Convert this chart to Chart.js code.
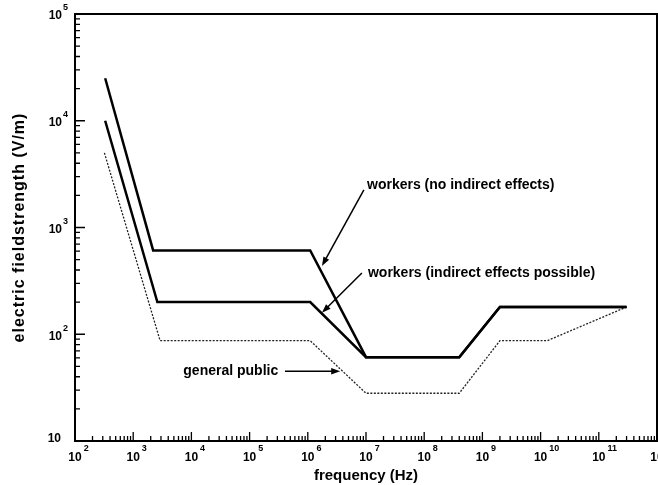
<!DOCTYPE html>
<html>
<head>
<meta charset="utf-8">
<script src="https://cdn.jsdelivr.net/npm/chart.js@4.4.1/dist/chart.umd.min.js"></script>
<style>
  html, body { margin: 0; padding: 0; background: #fff; }
  #wrap { width: 658px; height: 485px; }
</style>
</head>
<body>
<div id="wrap"><canvas id="fieldChart"></canvas></div>
<script>
// frequency in Hz, field strength in V/m
const noIndirectFreq  = [330, 2200, 1.1e6, 1e7, 4e8, 2e9, 3e11];
const noIndirectField = [25000, 610, 610, 61, 61, 180, 180];

const indirectFreq  = [330, 2600, 1.1e6, 1e7, 4e8, 2e9, 3e11];
const indirectField = [10000, 200, 200, 61, 61, 180, 180];

const publicFreq  = [320, 2900, 1.1e6, 1e7, 4e8, 2e9, 1.3e10, 3e11];
const publicField = [5000, 87, 87, 28, 28, 87, 87, 180];

const xDecades = [1e2, 1e3, 1e4, 1e5, 1e6, 1e7, 1e8, 1e9, 1e10, 1e11, 1e12];
const yDecades = [1e1, 1e2, 1e3, 1e4, 1e5];

const seriesNames = ['workers (no indirect effects)', 'workers (indirect effects possible)', 'general public'];
const xTitle = 'frequency (Hz)';
const yTitle = 'electric fieldstrength (V/m)';

const FONT = '"Liberation Sans", Arial, Helvetica, sans-serif';

const toPoints = (fs, vs) => fs.map((f, i) => ({ x: f, y: vs[i] }));

function arrow(ctx, x1, y1, x2, y2) {
    const ang = Math.atan2(y2 - y1, x2 - x1);
    ctx.beginPath();
    ctx.moveTo(x1, y1);
    ctx.lineTo(x2 - 6 * Math.cos(ang), y2 - 6 * Math.sin(ang));
    ctx.stroke();
    ctx.beginPath();
    ctx.moveTo(x2, y2);
    ctx.lineTo(x2 - 9 * Math.cos(ang) + 3.2 * Math.sin(ang), y2 - 9 * Math.sin(ang) - 3.2 * Math.cos(ang));
    ctx.lineTo(x2 - 9 * Math.cos(ang) - 3.2 * Math.sin(ang), y2 - 9 * Math.sin(ang) + 3.2 * Math.cos(ang));
    ctx.closePath();
    ctx.fill();
}

// frame, inward ticks, power-of-ten labels, titles and callouts
const paperAxes = {
    id: 'paperAxes',
    afterDraw(chart) {
        const { ctx, chartArea: a, scales: { x, y } } = chart;
        ctx.save();
        ctx.strokeStyle = '#000';
        ctx.fillStyle = '#000';

        ctx.lineWidth = 2;
        ctx.strokeRect(a.left, a.top, a.right - a.left, a.bottom - a.top);

        // minor + major ticks pointing inside
        ctx.lineWidth = 1.3;
        ctx.beginPath();
        xDecades.slice(0, -1).forEach(d => {
            for (let m = 1; m <= 9; m++) {
                const px = x.getPixelForValue(m * d);
                ctx.moveTo(px, a.bottom);
                ctx.lineTo(px, a.bottom - (m === 1 ? 9 : 5));
            }
        });
        yDecades.slice(0, -1).forEach(d => {
            for (let m = 1; m <= 9; m++) {
                const py = y.getPixelForValue(m * d);
                ctx.moveTo(a.left, py);
                ctx.lineTo(a.left + (m === 1 ? 10 : 5), py);
            }
        });
        ctx.stroke();

        // tick labels: "10" with raised exponent
        ctx.textBaseline = 'middle';
        x.ticks.forEach(t => {
            const px = x.getPixelForValue(t.value);
            const exp = Math.round(Math.log10(t.value));
            ctx.font = 'bold 12px ' + FONT;
            const w = ctx.measureText('10').width;
            ctx.textAlign = 'center';
            ctx.fillText('10', px, a.bottom + 17);
            ctx.font = 'bold 9px ' + FONT;
            ctx.textAlign = 'left';
            ctx.fillText(String(exp), px + w / 2 + 2, a.bottom + 8);
        });
        y.ticks.forEach(t => {
            const py = y.getPixelForValue(t.value);
            const exp = Math.round(Math.log10(t.value));
            ctx.font = 'bold 12px ' + FONT;
            const w = ctx.measureText('10').width;
            if (exp === 1) {
                ctx.textAlign = 'right';
                ctx.fillText('10', a.left - 14, py - 2);
                return;
            }
            ctx.font = 'bold 9px ' + FONT;
            const ws = ctx.measureText(String(exp)).width;
            const right = a.left - 7;
            ctx.textAlign = 'left';
            ctx.fillText(String(exp), right - ws, py - 6);
            ctx.font = 'bold 12px ' + FONT;
            ctx.fillText('10', right - ws - 1 - w, py + 2);
        });

        // axis titles
        ctx.font = 'bold 15px ' + FONT;
        ctx.textAlign = 'center';
        ctx.fillText(xTitle, (a.left + a.right) / 2, 476);
        ctx.save();
        ctx.font = 'bold 16px ' + FONT;
        ctx.translate(20, (a.top + a.bottom) / 2);
        ctx.rotate(-Math.PI / 2);
        ctx.letterSpacing = '1px';
        ctx.fillText(yTitle, 0, 0);
        ctx.restore();

        // callouts, anchored in data units
        ctx.font = 'bold 14px ' + FONT;
        ctx.textAlign = 'left';
        ctx.lineWidth = 1.5;
        ctx.fillText(seriesNames[0], x.getPixelForValue(1.04e7), y.getPixelForValue(2500));
        arrow(ctx, x.getPixelForValue(9.2e6), y.getPixelForValue(2250), x.getPixelForValue(1.75e6), y.getPixelForValue(436));
        ctx.fillText(seriesNames[1], x.getPixelForValue(1.08e7), y.getPixelForValue(375));
        arrow(ctx, x.getPixelForValue(8.5e6), y.getPixelForValue(375), x.getPixelForValue(1.75e6), y.getPixelForValue(159));
        ctx.textAlign = 'right';
        ctx.fillText(seriesNames[2], x.getPixelForValue(3.1e5), y.getPixelForValue(45));
        arrow(ctx, x.getPixelForValue(4.05e5), y.getPixelForValue(45), x.getPixelForValue(3.6e6), y.getPixelForValue(45));

        ctx.restore();
    }
};

new Chart(document.getElementById('fieldChart'), {
    type: 'line',
    data: {
        datasets: [
            { label: seriesNames[0], data: toPoints(noIndirectFreq, noIndirectField), borderColor: '#000', borderWidth: 2.5 },
            { label: seriesNames[1], data: toPoints(indirectFreq, indirectField), borderColor: '#000', borderWidth: 2.5 },
            { label: seriesNames[2], data: toPoints(publicFreq, publicField), borderColor: '#222', borderWidth: 1.3, borderDash: [2, 1.5] }
        ]
    },
    options: {
        responsive: true,
        maintainAspectRatio: false,
        animation: false,
        events: [],
        layout: { padding: { top: 14, right: 1, left: 0, bottom: 0 } },
        elements: { point: { radius: 0 }, line: { tension: 0, borderJoinStyle: 'miter' } },
        plugins: { legend: { display: false }, tooltip: { enabled: false } },
        scales: {
            x: {
                type: 'logarithmic', min: 1e2, max: 1e12,
                grid: { display: false }, border: { display: false }, ticks: { display: false },
                afterBuildTicks: s => { s.ticks = xDecades.map(v => ({ value: v, major: true })); },
                afterFit: s => { s.height = 44; s.paddingLeft = 0; s.paddingRight = 0; }
            },
            y: {
                type: 'logarithmic', min: 1e1, max: 1e5,
                grid: { display: false }, border: { display: false }, ticks: { display: false },
                afterBuildTicks: s => { s.ticks = yDecades.map(v => ({ value: v, major: true })); },
                afterFit: s => { s.width = 75; s.paddingTop = 0; s.paddingBottom = 0; }
            }
        }
    },
    plugins: [paperAxes]
});
</script>
</body>
</html>
